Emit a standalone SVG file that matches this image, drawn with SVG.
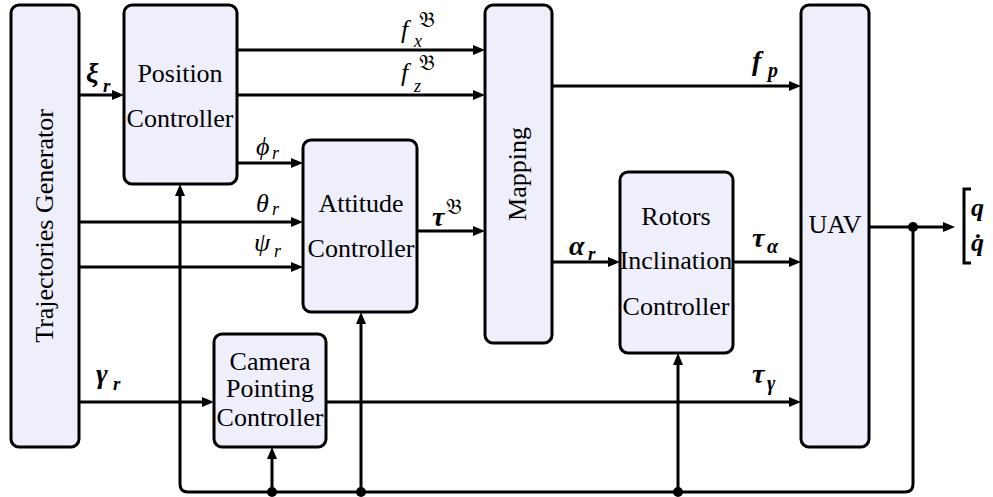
<svg xmlns="http://www.w3.org/2000/svg" width="993" height="497" viewBox="0 0 993 497">
  <style>
    .box { fill: #efeffc; stroke: #000; stroke-width: 3; }
    .lbl { font-family: "Liberation Serif", "DejaVu Serif", serif; font-size: 26px; fill: #000; text-anchor: middle; }
    .wire { fill: none; stroke: #000; stroke-width: 3; }
    .arr { marker-end: url(#ah); }
    .m { font-family: "Liberation Serif", "DejaVu Serif", serif; font-style: italic; fill: #000; }
    .mb { font-family: "Liberation Serif", "DejaVu Serif", serif; font-style: italic; font-weight: bold; fill: #000; }
    .frak { font-family: "DejaVu Serif", "Noto Sans", serif; font-style: normal; font-weight: normal; }
  </style>
  <defs>
    <marker id="ah" viewBox="0 0 12 10" refX="6" refY="5" markerWidth="12" markerHeight="10" markerUnits="userSpaceOnUse" orient="auto">
      <path d="M0,0 L12,5 L0,10 z" fill="#000"/>
    </marker>
  </defs>

  <!-- blocks -->
  <g id="trajectories-generator">
    <rect class="box" x="11" y="5" width="68" height="442" rx="8"/>
    <text class="lbl" transform="translate(53,226) rotate(-90)">Trajectories Generator</text>
  </g>
  <g id="position-controller">
    <rect class="box" x="124" y="5" width="113" height="179" rx="8"/>
    <text class="lbl" x="180" y="82">Position</text>
    <text class="lbl" x="180" y="127">Controller</text>
  </g>
  <g id="attitude-controller">
    <rect class="box" x="303" y="140" width="114" height="172" rx="8"/>
    <text class="lbl" x="361" y="212">Attitude</text>
    <text class="lbl" x="361" y="257">Controller</text>
  </g>
  <g id="mapping">
    <rect class="box" x="485" y="5" width="67" height="338" rx="8"/>
    <text class="lbl" transform="translate(526,174) rotate(-90)">Mapping</text>
  </g>
  <g id="rotors-inclination-controller">
    <rect class="box" x="620" y="172" width="113" height="181" rx="8"/>
    <text class="lbl" x="676" y="225">Rotors</text>
    <text class="lbl" x="676" y="269">Inclination</text>
    <text class="lbl" x="676" y="315">Controller</text>
  </g>
  <g id="uav">
    <rect class="box" x="801" y="5" width="68" height="442" rx="8"/>
    <text class="lbl" x="835" y="233">UAV</text>
  </g>
  <g id="camera-pointing-controller">
    <rect class="box" x="214" y="334" width="112" height="113" rx="8"/>
    <text class="lbl" x="270" y="370">Camera</text>
    <text class="lbl" x="270" y="397">Pointing</text>
    <text class="lbl" x="270" y="426">Controller</text>
  </g>

  <!-- signal lines -->
  <g id="connectors">
    <path class="wire arr" d="M79,95 H118"/>
    <path class="wire arr" d="M237,50 H479"/>
    <path class="wire arr" d="M237,95 H479"/>
    <path class="wire arr" d="M237,163 H297"/>
    <path class="wire arr" d="M79,222 H297"/>
    <path class="wire arr" d="M79,267 H297"/>
    <path class="wire arr" d="M417,231 H479"/>
    <path class="wire arr" d="M552,86 H795"/>
    <path class="wire arr" d="M552,262 H614"/>
    <path class="wire arr" d="M733,262 H795"/>
    <path class="wire arr" d="M79,402 H208"/>
    <path class="wire arr" d="M326,402 H795"/>
    <path class="wire arr" d="M869,227 H949"/>
    <!-- state feedback -->
    <path class="wire arr" d="M913,227 V484 Q913,492 905,492 H188 Q180,492 180,484 V190"/>
    <path class="wire arr" d="M272,492 V453"/>
    <path class="wire arr" d="M361,492 V318"/>
    <path class="wire arr" d="M678,492 V359"/>
    <circle cx="913" cy="227" r="5" fill="#000"/>
    <circle cx="272" cy="492" r="5" fill="#000"/>
    <circle cx="361" cy="492" r="5" fill="#000"/>
    <circle cx="678" cy="492" r="5" fill="#000"/>
  </g>

  <!-- signal labels -->
  <g id="labels">
    <text class="mb" x="86" y="82" font-size="28">ξ</text>
    <text class="mb" x="103" y="92" font-size="19">r</text>

    <text class="m" x="401" y="38" font-size="26">f</text>
    <text class="m" x="414" y="47" font-size="18">x</text>
    <text class="m frak" x="419" y="27" font-size="22">𝔅</text>

    <text class="m" x="401" y="81" font-size="26">f</text>
    <text class="m" x="414" y="92" font-size="18">z</text>
    <text class="m frak" x="419" y="70" font-size="22">𝔅</text>

    <text class="m" x="256" y="155" font-size="26">ϕ</text>
    <text class="m" x="272" y="159" font-size="18">r</text>

    <text class="m" x="256" y="212" font-size="26">θ</text>
    <text class="m" x="272" y="215" font-size="18">r</text>

    <text class="m" x="254" y="251" font-size="26">ψ</text>
    <text class="m" x="274" y="257" font-size="18">r</text>

    <text class="mb" x="432" y="226" font-size="28">τ</text>
    <text class="m frak" x="446" y="214" font-size="22">𝔅</text>

    <text class="mb" x="752" y="70" font-size="28">f</text>
    <text class="mb" x="768" y="77" font-size="20">p</text>

    <text class="mb" x="569" y="255" font-size="28">α</text>
    <text class="mb" x="588" y="260" font-size="19">r</text>

    <text class="mb" x="752" y="247" font-size="28">τ</text>
    <text class="mb" x="767" y="253" font-size="20">α</text>

    <text class="mb" x="96" y="383" font-size="28">γ</text>
    <text class="mb" x="113" y="390" font-size="19">r</text>

    <text class="mb" x="752" y="383" font-size="28">τ</text>
    <text class="mb" x="767" y="390" font-size="20">γ</text>

    <!-- output state vector -->
    <path class="wire" d="M971,189 H964 V263 H971" stroke-width="2"/>
    <text class="mb" x="971" y="216" font-size="26">q</text>
    <text class="mb" x="971" y="251" font-size="26">q̇</text>
  </g>
</svg>
